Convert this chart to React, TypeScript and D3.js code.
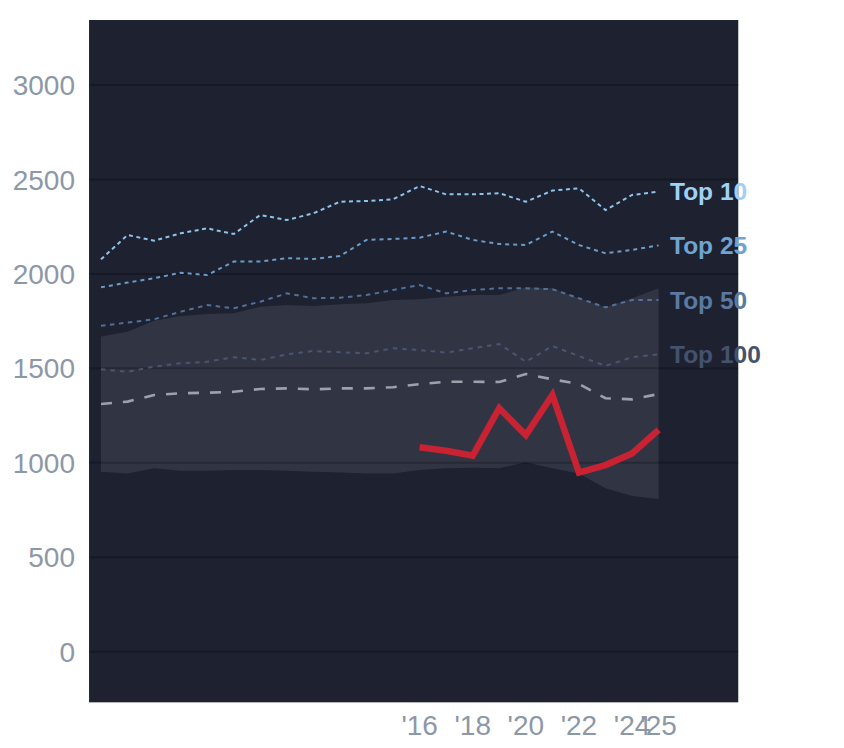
import React from "react";
import * as d3 from "d3";

const years = [
  2004, 2005, 2006, 2007, 2008, 2009, 2010, 2011, 2012, 2013, 2014, 2015,
  2016, 2017, 2018, 2019, 2020, 2021, 2022, 2023, 2024, 2025,
];
const top10 = [
  2077, 2206, 2176, 2215, 2241, 2211, 2312, 2285, 2321, 2382, 2386, 2395,
  2465, 2421, 2421, 2427, 2382, 2441, 2453, 2338, 2418, 2435,
];
const top25 = [
  1929, 1954, 1977, 2006, 1994, 2065, 2065, 2083, 2079, 2095, 2180, 2185,
  2192, 2224, 2180, 2158, 2153, 2224, 2153, 2109, 2127, 2151,
];
const top50 = [
  1726, 1742, 1760, 1800, 1835, 1818, 1853, 1897, 1871, 1874, 1888, 1915,
  1941, 1897, 1915, 1924, 1924, 1919, 1871, 1823, 1862, 1862,
];
const top100 = [
  1495, 1482, 1509, 1527, 1535, 1559, 1544, 1574, 1592, 1585, 1580, 1606,
  1597, 1583, 1606, 1629, 1535, 1618, 1565, 1513, 1559, 1574,
];
const median = [
  1311, 1324, 1359, 1368, 1371, 1376, 1391, 1394, 1389, 1394, 1394, 1400,
  1416, 1429, 1429, 1428, 1470, 1442, 1417, 1342, 1336, 1364,
];
const rangeHigh = [
  1668, 1694, 1752, 1777, 1788, 1792, 1826, 1835, 1830, 1839, 1844, 1862,
  1866, 1879, 1888, 1888, 1929, 1924, 1871, 1823, 1871, 1924,
];
const rangeLow = [
  953, 944, 971, 958, 958, 962, 962, 958, 953, 948, 944, 944,
  962, 971, 974, 971, 1003, 971, 944, 865, 824, 808,
];
const ownYears = [2016, 2017, 2018, 2019, 2020, 2021, 2022, 2023, 2024, 2025];
const ownValues = [1082, 1064, 1038, 1289, 1147, 1359, 948, 988, 1050, 1174];

const xTicks = [2016, 2018, 2020, 2022, 2024, 2025];
const yTicks = [0, 500, 1000, 1500, 2000, 2500, 3000];

const tiers = [
  { label: "Top 10", values: top10, color: "#8fc4ea", text: "#9fd1f7", dash: "4,3.5" },
  { label: "Top 25", values: top25, color: "#6b9cc8", text: "#6fa4d2", dash: "4,4" },
  { label: "Top 50", values: top50, color: "#52709a", text: "#5a7aa2", dash: "4.5,4.5" },
  { label: "Top 100", values: top100, color: "#495571", text: "#44526d", dash: "4.5,5" },
];

const width = 844;
const height = 748;
const font = "'Liberation Sans', Arial, sans-serif";

const x = d3.scaleLinear().domain([2004, 2025]).range([101, 658.6]);
const y = d3.scaleLinear().domain([0, 3000]).range([651.7, 85]);

const panelLeft = x(2003.55);
const panelRight = x(2028);
const panelTop = y(3344);
const panelBottom = y(-268);

export default function App() {
  const line = d3
    .line<number>()
    .x((_, i) => x(years[i]))
    .y((d) => y(d));
  const ownLine = d3
    .line<number>()
    .x((_, i) => x(ownYears[i]))
    .y((d) => y(d));
  const area = d3
    .area<number>()
    .x((_, i) => x(years[i]))
    .y0((_, i) => y(rangeLow[i]))
    .y1((d) => y(d));

  return (
    <svg
      width={width}
      height={height}
      style={{ position: "absolute", left: 0, top: 0, display: "block" }}
      fontFamily={font}
    >
      <rect x={0} y={0} width={width} height={height} fill="#ffffff" />
      <rect
        x={panelLeft}
        y={panelTop}
        width={panelRight - panelLeft}
        height={panelBottom - panelTop}
        fill="#1d2130"
      />
      <path d={area(rangeHigh) as string} fill="#313543" />

      {yTicks.map((t) => (
        <line
          key={t}
          x1={panelLeft}
          x2={panelRight}
          y1={y(t)}
          y2={y(t)}
          stroke="#000000"
          strokeOpacity={0.22}
          strokeWidth={2}
        />
      ))}

      <path
        d={line(median) as string}
        fill="none"
        stroke="#9ca1ad"
        strokeWidth={2.6}
        strokeDasharray="11,11"
      />
      {tiers.map((s) => (
        <path
          key={s.label}
          d={line(s.values) as string}
          fill="none"
          stroke={s.color}
          strokeWidth={2}
          strokeDasharray={s.dash}
        />
      ))}
      <path
        d={ownLine(ownValues) as string}
        fill="none"
        stroke="#c92233"
        strokeWidth={6.5}
      />

      {tiers.map((s) => (
        <text
          key={s.label}
          x={670}
          y={y(s.values[s.values.length - 1])}
          dy="0.35em"
          fontSize={24.5}
          fontWeight="bold"
          fill={s.text}
        >
          {s.label}
        </text>
      ))}

      {yTicks.map((t) => (
        <text
          key={t}
          x={75}
          y={y(t)}
          dy="0.36em"
          textAnchor="end"
          fontSize={28}
          fill="#8c97a7"
        >
          {t}
        </text>
      ))}
      {xTicks.map((t) => (
        <text
          key={t}
          x={x(t)}
          y={735}
          textAnchor="middle"
          fontSize={28}
          fill="#8c97a7"
        >
          {"'" + String(t).slice(2)}
        </text>
      ))}
    </svg>
  );
}
